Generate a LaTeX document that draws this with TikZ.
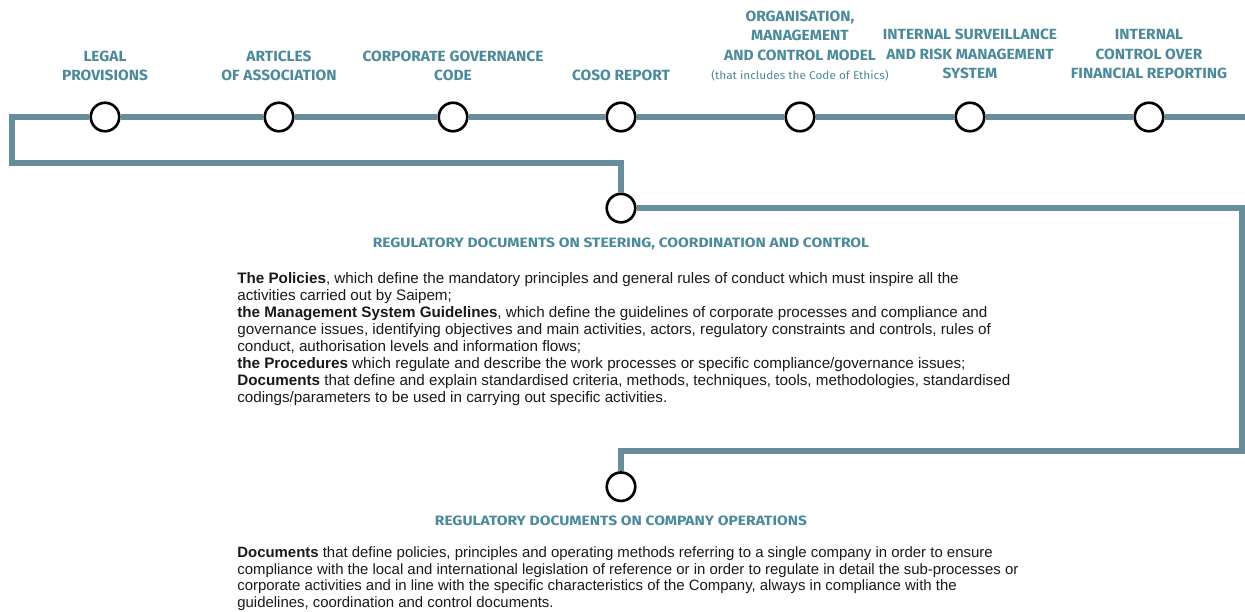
\documentclass[tikz,border=0pt]{standalone}
\usepackage{fontspec}
\setmainfont{Liberation Sans}
\newfontfamily\capsfont[FakeStretch=1.05]{Fira Sans}
\newfontfamily\headfont[FakeStretch=1.15]{Fira Sans}
\usetikzlibrary{positioning}
\definecolor{railc}{RGB}{104,142,158}
\definecolor{capc}{RGB}{74,138,154}
\definecolor{txtc}{RGB}{25,25,25}
\tikzset{
  stop/.style={circle, draw=black, line width=1.5pt, fill=white, minimum size=0.57cm, inner sep=0pt},
  rail/.style={draw=railc, line width=3pt},
  lbl/.style={text=capc, font=\capsfont\bfseries\fontsize{8.4}{11}\selectfont, align=center, anchor=south, inner sep=0pt},
  head/.style={text=capc, font=\headfont\bfseries\fontsize{7.7}{9}\selectfont, inner sep=0pt},
  body/.style={text=txtc, font=\fontsize{8.65}{9.7}\selectfont, align=left, anchor=north west, inner sep=0pt},
}

\begin{document}
\begin{tikzpicture}[x=0.02cm, y=-0.02cm]
  \useasboundingbox (0,0) rectangle (1245,612);

  \node[stop] (legal) at (105,117) {}; %
  \node[stop] (art)   at (279,117) {}; %
  \node[stop] (cgc)   at (453,117) {}; %
  \node[stop] (coso)  at (621,117) {}; %
  \node[stop] (model) at (800,117) {}; %
  \node[stop] (isrm)  at (970,117) {}; %
  \node[stop] (icfr)  at (1149,117) {}; %
  \node[stop, below=1.2cm of coso] (steer) {}; %
  \node[stop, below=4.95cm of steer] (ops) {}; %

  % labels above the stops
  \node[lbl, above=0.4cm of legal] (legal-t) {LEGAL\\PROVISIONS}; %
  \node[lbl, above=0.4cm of art]   (art-t)   {ARTICLES\\OF ASSOCIATION}; %
  \node[lbl, above=0.4cm of cgc]   (cgc-t)   {CORPORATE GOVERNANCE\\CODE}; %
  \node[lbl, above=0.4cm of coso]  (coso-t)  {COSO REPORT}; %
  \node[lbl, above=0.4cm of model] (model-t) {ORGANISATION,\\MANAGEMENT\\AND CONTROL MODEL\\{\fontsize{6.4}{11}\selectfont\mdseries (that includes the Code of Ethics)}}; %
  \node[lbl, above=0.45cm of isrm] (isrm-t)  {INTERNAL SURVEILLANCE\\AND RISK MANAGEMENT\\SYSTEM}; %
  \node[lbl, above=0.45cm of icfr] (icfr-t)  {INTERNAL\\CONTROL OVER\\FINANCIAL REPORTING}; %

  % corners of the rails
  \coordinate (tl) at (12,117); %
  \coordinate (tr) at (1245,117); %
  \coordinate (bl) at (12,163); %
  \coordinate (bm) at (steer |- bl); %
  \coordinate (r1) at (1242,0 |- steer); %
  \coordinate (r2) at (1242,451); %
  \coordinate (r3) at (ops |- r2); %

  \draw[rail] (tr) -- (icfr) -- (isrm) -- (model) -- (coso) -- (cgc) -- (art) -- (legal) -- (tl) -- (bl) -- (bm) -- (steer); %
  \draw[rail] (steer) -- (r1) -- (r2) -- (r3) -- (ops); %

  \node[head, below=0.28cm of steer] (steer-h) {REGULATORY DOCUMENTS ON STEERING, COORDINATION AND CONTROL}; %
  \node[head, below=0.26cm of ops]   (ops-h)   {REGULATORY DOCUMENTS ON COMPANY OPERATIONS}; %

  \node[body] (steer-b) at (237,272) {%
\textbf{The Policies}, which define the mandatory principles and general rules of conduct which must inspire all the\\
activities carried out by Saipem;\\
\textbf{the Management System Guidelines}, which define the guidelines of corporate processes and compliance and\\
governance issues, identifying objectives and main activities, actors, regulatory constraints and controls, rules of\\
conduct, authorisation levels and information flows;\\
\textbf{the Procedures} which regulate and describe the work processes or specific compliance/governance issues;\\
\textbf{Documents} that define and explain standardised criteria, methods, techniques, tools, methodologies, standardised\\
codings/parameters to be used in carrying out specific activities.};

  \node[body, font=\fontsize{8.5}{9.6}\selectfont] (ops-b) at (237,546) {%
\textbf{Documents} that define policies, principles and operating methods referring to a single company in order to ensure\\
compliance with the local and international legislation of reference or in order to regulate in detail the sub-processes or\\
corporate activities and in line with the specific characteristics of the Company, always in compliance with the\\
guidelines, coordination and control documents.};
\end{tikzpicture}
\end{document}
